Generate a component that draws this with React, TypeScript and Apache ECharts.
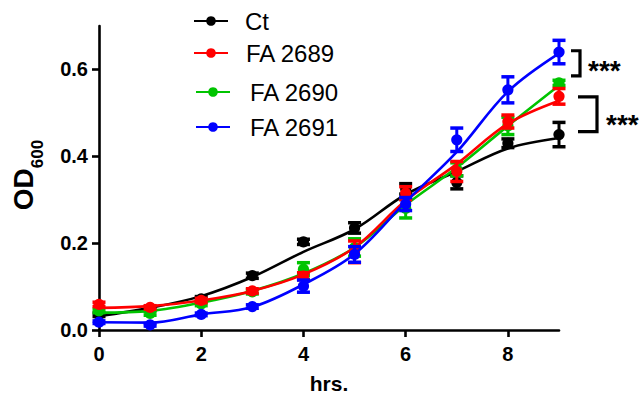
import React, { useEffect, useRef } from "react";
import * as echarts from "echarts";

const hours = [0, 1, 2, 3, 4, 5, 6, 7, 8, 9];
const xTicks = [0, 2, 4, 6, 8];
const yTicks = [0, 0.2, 0.4, 0.6];

const seriesNames = ["Ct", "FA 2689", "FA 2690", "FA 2691"];
const seriesColors = ["#000000", "#ff0000", "#00c400", "#0000ff"];

// measured means
const ctMean = [0.035, 0.05, 0.072, 0.125, 0.203, 0.235, 0.325, 0.34, 0.43, 0.45];
const fa2689Mean = [0.059, 0.052, 0.068, 0.09, 0.124, 0.18, 0.315, 0.365, 0.48, 0.538];
const fa2690Mean = [0.044, 0.038, 0.06, 0.088, 0.14, 0.19, 0.28, 0.37, 0.47, 0.569];
const fa2691Mean = [0.018, 0.012, 0.036, 0.054, 0.101, 0.174, 0.29, 0.438, 0.553, 0.64];

// error (SEM)
const ctErr = [0.004, 0.004, 0.005, 0.006, 0.006, 0.012, 0.012, 0.015, 0.01, 0.028];
const fa2689Err = [0.005, 0.004, 0.005, 0.005, 0.008, 0.025, 0.015, 0.023, 0.015, 0.018];
const fa2690Err = [0.004, 0.004, 0.004, 0.005, 0.015, 0.02, 0.022, 0.015, 0.02, 0.006];
const fa2691Err = [0.003, 0.003, 0.003, 0.004, 0.014, 0.018, 0.015, 0.027, 0.03, 0.027];

// fitted curves read at each hour
const ctFit = [0.032, 0.051, 0.078, 0.122, 0.18, 0.232, 0.312, 0.365, 0.418, 0.442];
const fa2689Fit = [0.051, 0.055, 0.068, 0.09, 0.128, 0.19, 0.298, 0.382, 0.475, 0.528];
const fa2690Fit = [0.04, 0.044, 0.063, 0.09, 0.13, 0.19, 0.288, 0.374, 0.47, 0.563];
const fa2691Fit = [0.018, 0.017, 0.036, 0.053, 0.105, 0.175, 0.295, 0.41, 0.549, 0.637];

// significance brackets at the last time point
const bracketX = [9, 9];
const bracketLow = [0.585, 0.457];
const bracketHigh = [0.643, 0.537];
const bracketLabels = ["***", "***"];

const FONT = "Liberation Sans, Arial, sans-serif";

const means = [ctMean, fa2689Mean, fa2690Mean, fa2691Mean];
const errs = [ctErr, fa2689Err, fa2690Err, fa2691Err];
const fits = [ctFit, fa2689Fit, fa2690Fit, fa2691Fit];

export default function App() {
  const ref = useRef<HTMLDivElement>(null);
  useEffect(() => {
    if (!ref.current) return;
    document.body.style.margin = "0";
    const chart = echarts.init(ref.current, null, { renderer: "svg" });

    const drawOrder = [0, 2, 1, 3];
    const series: any[] = [];
    drawOrder.forEach((k, idx) => {
      const color = seriesColors[k];
      series.push({
        type: "line",
        name: seriesNames[k],
        data: hours.map((h, i) => [h, fits[k][i]]),
        smooth: 0.35,
        showSymbol: false,
        symbol: "circle",
        clip: false,
        z: 2 + idx * 2,
        itemStyle: { color },
        lineStyle: { color, width: 2.6 },
      });
      series.push({
        type: "custom",
        name: seriesNames[k] + " mean",
        data: hours.map((h, i) => [h, means[k][i], errs[k][i]]),
        encode: { x: 0, y: 1 },
        clip: false,
        z: 3 + idx * 2,
        renderItem: (params: any, api: any) => {
          const x = api.value(0);
          const m = api.value(1);
          const e = api.value(2);
          const t = api.coord([x, m + e]);
          const b = api.coord([x, m - e]);
          const c = api.coord([x, m]);
          const cw = 6.5;
          return {
            type: "group",
            children: [
              { type: "line", shape: { x1: t[0], y1: t[1], x2: b[0], y2: b[1] }, style: { stroke: color, lineWidth: 3 } },
              { type: "line", shape: { x1: t[0] - cw, y1: t[1], x2: t[0] + cw, y2: t[1] }, style: { stroke: color, lineWidth: 3.5 } },
              { type: "line", shape: { x1: b[0] - cw, y1: b[1], x2: b[0] + cw, y2: b[1] }, style: { stroke: color, lineWidth: 3.5 } },
              { type: "circle", shape: { cx: c[0], cy: c[1], r: 5.6 }, style: { fill: color } },
            ],
          };
        },
      });
    });

    const tipDx = [12, 19];
    const barDx = [21, 38];
    const textDx = [29, 47];
    const textDy = [7, 10];
    series.push({
      type: "custom",
      name: "significance",
      data: bracketX.map((x, i) => [x, bracketLow[i], bracketHigh[i]]),
      encode: { x: 0, y: [1, 2] },
      clip: false,
      z: 20,
      renderItem: (params: any, api: any) => {
        const i = params.dataIndex;
        const x = api.value(0);
        const lo = api.coord([x, api.value(1)]);
        const hi = api.coord([x, api.value(2)]);
        const x0 = lo[0] + tipDx[i];
        const x1 = lo[0] + barDx[i];
        return {
          type: "group",
          children: [
            {
              type: "polyline",
              shape: { points: [[x0, hi[1]], [x1, hi[1]], [x1, lo[1]], [x0, lo[1]]] },
              style: { stroke: "#000", lineWidth: 3.2, fill: "none" },
            },
            {
              type: "text",
              style: {
                text: bracketLabels[i],
                x: lo[0] + textDx[i],
                y: (lo[1] + hi[1]) / 2 + textDy[i],
                fontSize: 28,
                fontWeight: "bold",
                fontFamily: FONT,
                fill: "#000",
                verticalAlign: "middle",
                align: "left",
              },
            },
          ],
        };
      },
    });

    const legendTops = [9, 41, 80, 115];
    const legendLeft = [193, 193, 195, 195];
    const legendPad = [12, 13, 15, 15];
    const legends = seriesNames.map((n, i) => ({
      data: [n],
      top: legendTops[i],
      left: legendLeft[i],
      padding: 0,
      itemWidth: 34,
      itemHeight: 12,
      selectedMode: false,
      textStyle: { fontSize: 24, fontFamily: FONT, color: "#000", padding: [0, 0, 0, legendPad[i]] },
    }));

    chart.setOption({
      animation: false,
      backgroundColor: "#fff",
      textStyle: { fontFamily: FONT },
      legend: legends,
      grid: { left: 99, right: 81, top: 26, bottom: 72, containLabel: false },
      xAxis: {
        type: "value",
        min: 0,
        max: 9,
        interval: 1,
        name: "hrs.",
        nameLocation: "middle",
        nameGap: 43,
        nameTextStyle: { fontSize: 21, fontWeight: "bold", color: "#000", fontFamily: FONT },
        axisLine: { show: true, lineStyle: { color: "#000", width: 2.6 } },
        axisTick: { show: true, length: 7, lineStyle: { color: "#000", width: 2.6 }, customValues: xTicks },
        axisLabel: {
          customValues: xTicks,
          margin: 14,
          fontSize: 20,
          fontWeight: "bold",
          color: "#000",
          fontFamily: FONT,
          formatter: (v: number) => String(v),
        },
        splitLine: { show: false },
      },
      yAxis: {
        type: "value",
        min: 0,
        max: 0.7,
        interval: 0.1,
        name: "{a|OD}{b|600}",
        nameLocation: "middle",
        nameRotate: 90,
        nameGap: 53,
        nameTextStyle: {
          color: "#000",
          padding: [0, 0, 0, 6],
          rich: {
            a: { fontSize: 28, fontWeight: "bold", fontFamily: FONT, lineHeight: 45, verticalAlign: "middle", color: "#000" },
            b: { fontSize: 17, fontWeight: "bold", fontFamily: FONT, lineHeight: 45, verticalAlign: "bottom", color: "#000" },
          },
        },
        axisLine: { show: true, lineStyle: { color: "#000", width: 2.6 } },
        axisTick: { show: true, length: 7, lineStyle: { color: "#000", width: 2.6 }, customValues: yTicks },
        axisLabel: {
          customValues: yTicks,
          margin: 11,
          fontSize: 20,
          fontWeight: "bold",
          color: "#000",
          fontFamily: FONT,
          formatter: (v: number) => v.toFixed(1),
        },
        splitLine: { show: false },
      },
      series,
    });
    return () => chart.dispose();
  }, []);
  return <div ref={ref} style={{ width: 640, height: 402 }} />;
}
